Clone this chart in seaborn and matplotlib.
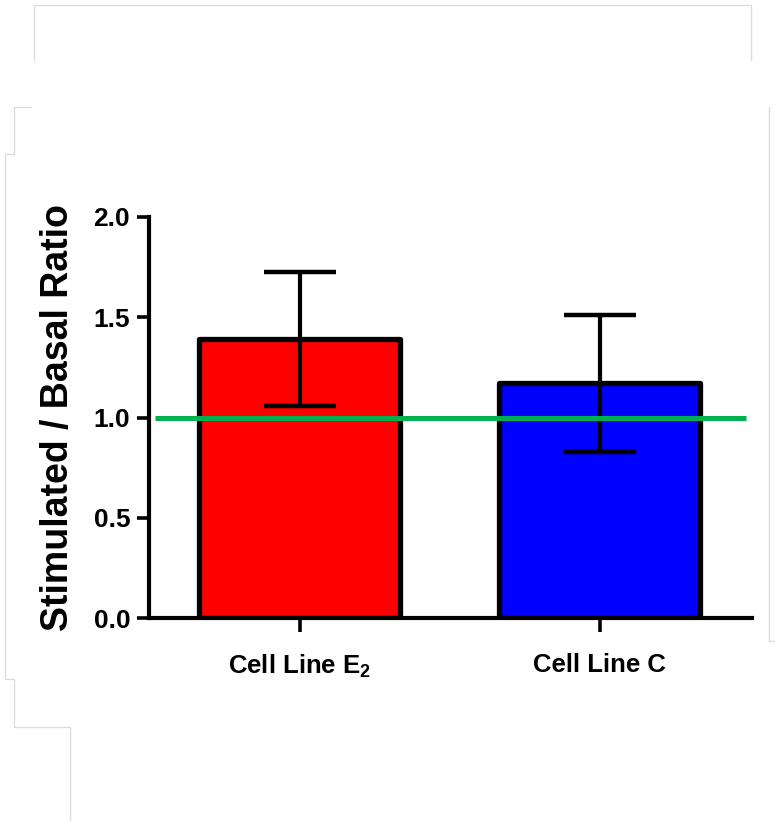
import pandas as pd
import numpy as np
import matplotlib.pyplot as plt
import seaborn as sns
from matplotlib.lines import Line2D

# data
cell_lines = ["Cell Line E$_\\mathregular{2}$", "Cell Line C"]
ratio_mean = [1.39, 1.17]
ratio_err = [0.335, 0.34]
bar_colors = ["#ff0000", "#0000ff"]
baseline = 1.0
y_ticks = [0.0, 0.5, 1.0, 1.5, 2.0]

df = pd.DataFrame({"line": cell_lines, "ratio": ratio_mean})

sns.set_style("white")
plt.rcParams["font.family"] = ["Liberation Sans", "DejaVu Sans"]
plt.rcParams["font.weight"] = "bold"
plt.rcParams["text.color"] = "black"
plt.rcParams["axes.labelcolor"] = "black"
plt.rcParams["xtick.color"] = "black"
plt.rcParams["ytick.color"] = "black"
plt.rcParams["mathtext.fontset"] = "custom"
plt.rcParams["mathtext.rm"] = "Liberation Sans:bold"

fig = plt.figure(figsize=(7.75, 8.21), dpi=100)
W, H = 775, 821
ax = fig.add_axes([149 / W, 1 - 618 / H, (752 - 149) / W, (618 - 217) / H])

sns.barplot(data=df, x="line", y="ratio", hue="line", palette=bar_colors,
            saturation=1, width=0.67, errorbar=None, legend=False, ax=ax,
            edgecolor="black", linewidth=3.8, zorder=2)
for p in ax.patches:
    p.set_joinstyle("round")

ax.errorbar(range(len(ratio_mean)), ratio_mean, yerr=ratio_err, fmt="none",
            ecolor="black", elinewidth=3, capsize=26, capthick=3.2, zorder=3)

# reference line at ratio = 1
ax.plot([-0.483, 1.487], [baseline, baseline], color="#00b050", lw=3.6,
        solid_capstyle="butt", zorder=4)

ax.set_xlim(-0.503, 1.507)
ax.set_ylim(0, 2.0)
ax.set_yticks(y_ticks)
ax.set_yticklabels([f"{v:.1f}" for v in y_ticks])
ax.set_xlabel("")
ax.set_ylabel("Stimulated / Basal Ratio", fontsize=27, fontweight="bold",
              color="black", labelpad=13)

for s in ["top", "right"]:
    ax.spines[s].set_visible(False)
for s in ["left", "bottom"]:
    ax.spines[s].set_linewidth(3)
    ax.spines[s].set_color("black")

ax.tick_params(axis="y", direction="out", length=8.5, width=2.6, labelsize=19, pad=5,
               left=True, color="black", labelcolor="black")
ax.tick_params(axis="x", direction="out", length=10, width=2.6, labelsize=18.5, pad=15,
               bottom=True, color="black", labelcolor="black")
for t in ax.get_xticklabels() + ax.get_yticklabels():
    t.set_fontweight("bold")

# faint frame remnants around the picture
def px_line(xs, ys):
    fig.add_artist(Line2D([x / W for x in xs], [1 - y / H for y in ys],
                          color="#dcdcdc", lw=1))

px_line([34, 34, 751, 751], [60, 5, 5, 60])
px_line([31, 14, 14, 5, 5, 14, 14, 70, 70], [107, 107, 154, 154, 679, 679, 727, 727, 821])
px_line([769, 769, 775], [107, 641, 641])

fig.savefig("out.png", dpi=100, facecolor="white")
